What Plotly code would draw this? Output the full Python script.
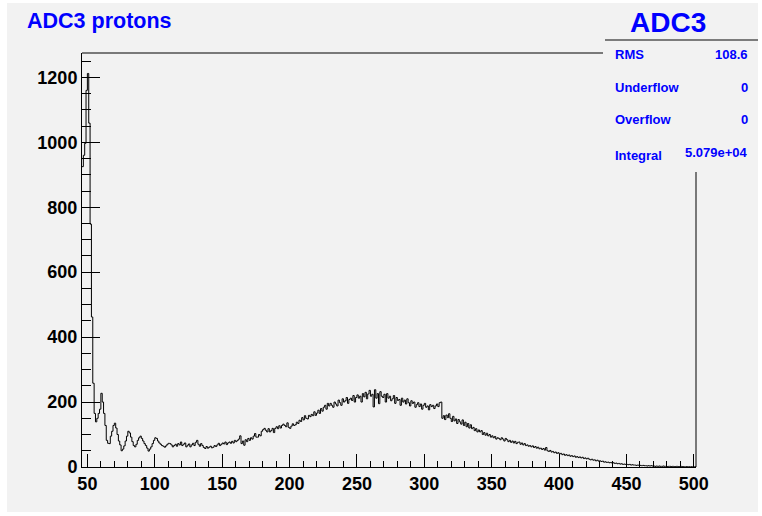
import plotly.graph_objects as go

# ---- data (1-unit bins starting at 46) ----
bin_start = 46
bin_width = 1
counts = [
    925, 960, 997, 1160, 1212, 1059, 748, 462, 258, 165,
    139, 150, 165, 178, 227, 200, 165, 128, 82, 73,
    72, 95, 110, 128, 135, 120, 100, 80, 68, 50,
    55, 65, 80, 95, 110, 105, 92, 78, 66, 62,
    70, 82, 90, 95, 88, 80, 72, 66, 58, 49,
    55, 62, 72, 82, 90, 88, 80, 74, 70, 66,
    64, 61, 65, 70, 73, 72, 68, 62, 66, 70,
    64, 72, 68, 77, 66, 70, 74, 62, 67, 71,
    62, 68, 73, 66, 76, 82, 70, 64, 72, 66,
    60, 57, 63, 58, 61, 64, 59, 61, 66, 63,
    68, 73, 66, 70, 74, 71, 77, 69, 74, 77,
    73, 79, 74, 82, 78, 82, 86, 96, 72, 80,
    67, 84, 78, 88, 82, 90, 86, 95, 103, 92,
    92, 100, 96, 110, 115, 119, 113, 108, 118, 108,
    112, 119, 106, 119, 124, 118, 127, 120, 128, 132,
    128, 124, 136, 122, 119, 126, 133, 128, 130, 138,
    134, 144, 140, 152, 145, 158, 150, 148, 159, 155,
    162, 158, 170, 159, 166, 175, 165, 180, 172, 184,
    190, 178, 196, 188, 196, 190, 184, 200, 194, 188,
    206, 198, 190, 210, 200, 204, 214, 196, 208, 212,
    205, 220, 200, 214, 222, 212, 218, 200, 226, 216,
    230, 210, 225, 236, 218, 224, 185, 238, 212, 226,
    195, 232, 218, 214, 224, 200, 226, 212, 218, 204,
    210, 220, 196, 214, 205, 208, 190, 212, 200, 206,
    194, 210, 198, 188, 204, 196, 200, 184, 192, 198,
    186, 194, 178, 190, 196, 184, 188, 176, 192, 186,
    190, 180, 188, 194, 186, 198, 200, 150, 158, 146,
    160, 152, 164, 150, 140, 156, 142, 148, 134, 146,
    139, 132, 145, 128, 138, 124, 134, 120, 130, 118,
    122, 112, 118, 108, 114, 108, 112, 100, 106, 98,
    104, 96, 100, 92, 96, 90, 94, 86, 90, 88,
    84, 90, 86, 80, 88, 84, 78, 82, 76, 80,
    74, 79, 72, 76, 77, 70, 74, 68, 72, 66,
    68, 64, 66, 62, 65, 60, 63, 58, 61, 56,
    58, 54, 57, 52, 60, 50, 48, 51, 46, 48,
    44, 46, 42, 44, 40, 42, 38, 40, 36, 38,
    35, 37, 33, 35, 32, 34, 30, 32, 29, 31,
    28, 30, 26, 28, 25, 27, 24, 22, 24, 21,
    22, 19, 21, 18, 19, 17, 18, 15, 16, 14,
    15, 13, 14, 12, 13, 11, 12, 10, 11, 9,
    10, 8, 9, 8, 8, 7, 8, 6, 7, 6,
    6, 5, 6, 5, 5, 4, 5, 4, 4, 3,
    4, 3, 4, 3, 3, 2, 3, 2, 3, 2,
    2, 3, 2, 2, 1, 2, 2, 1, 2, 1,
    1, 2, 1, 1, 2, 1, 1, 0, 1, 1,
    1, 0, 1, 1, 0, 1,
]

title_text = "ADC3 protons"
stats_title = "ADC3"
stats_labels = ["RMS", "Underflow", "Overflow", "Integral"]
stats_values = ["108.6", "0", "0", "5.079e+04"]

x_range = [46.0, 501.6]
y_range = [0, 1275]

# ---- figure geometry (pixels) ----
W, H = 762, 516
L, R, T, B = 82, 66, 53, 49
PW, PH = W - L - R, H - T - B


def px(xp):
    return (xp - L) / PW


def py(yp):
    return (H - B - yp) / PH


edges = [bin_start + i * bin_width for i in range(len(counts) + 1)]
yvals = counts + [counts[-1]]

BG = "rgb(242,242,242)"
BLUE = "#0000ff"
FONT = "Liberation Sans, Arial, sans-serif"

fig = go.Figure()
fig.add_trace(go.Scatter(
    x=edges, y=yvals, mode="lines", line=dict(shape="hv", color="#000000", width=1),
    hoverinfo="skip", showlegend=False,
))

axis_common = dict(
    showgrid=False, zeroline=False, showline=True, linecolor="#000000", linewidth=1,
    mirror=False, ticks="inside", tickcolor="#000000", tickwidth=1,
    tickfont=dict(family=FONT, size=18, color="#000000", weight="bold"),
)

fig.update_layout(
    width=W, height=H,
    margin=dict(l=L, r=R, t=T, b=B, pad=0),
    paper_bgcolor="#ffffff",
    plot_bgcolor=BG,
    xaxis=dict(range=x_range, tick0=50, dtick=50, ticklen=13,
               minor=dict(dtick=10, tick0=50, ticklen=6, ticks="inside", tickcolor="#000000"),
               **axis_common),
    yaxis=dict(range=y_range, tick0=0, dtick=200, ticklen=18,
               minor=dict(dtick=50, tick0=0, ticklen=9, ticks="inside", tickcolor="#000000"),
               **axis_common),
    shapes=[
        dict(type="rect", xref="paper", yref="paper", x0=px(7), x1=px(758), y0=py(512), y1=py(3),
             fillcolor=BG, line=dict(width=0), layer="below"),
        # frame top edge (hidden behind the stats box on the right)
        dict(type="line", xref="paper", yref="paper", x0=0, x1=px(603), y0=1, y1=1,
             line=dict(color="#000000", width=1), layer="above"),
        # frame right edge (visible below the stats box)
        dict(type="line", xref="paper", yref="paper", x0=1, x1=1, y0=0, y1=py(172),
             line=dict(color="#000000", width=1), layer="above"),
        # stats box title separator
        dict(type="line", xref="paper", yref="paper", x0=px(605), x1=px(758), y0=py(40), y1=py(40),
             line=dict(color="#555555", width=1.5), layer="above"),
    ],
)

ann = []
ann.append(dict(text=title_text, x=px(25), y=py(20.5), xref="paper", yref="paper",
                xanchor="left", yanchor="middle", showarrow=False,
                font=dict(family=FONT, size=21.5, color=BLUE, weight="bold")))
ann.append(dict(text=stats_title, x=px(668), y=py(23), xref="paper", yref="paper",
                xanchor="center", yanchor="middle", showarrow=False,
                font=dict(family=FONT, size=28, color=BLUE, weight="bold")))
label_y = [54, 87.3, 119, 155]
value_y = [54, 87.3, 119, 152.7]
for lab, val, ly, vy in zip(stats_labels, stats_values, label_y, value_y):
    ann.append(dict(text=lab, x=px(612.5), y=py(ly), xref="paper", yref="paper",
                    xanchor="left", yanchor="middle", showarrow=False,
                    font=dict(family=FONT, size=13, color=BLUE, weight="bold")))
    ann.append(dict(text=val, x=px(749.5), y=py(vy), xref="paper", yref="paper",
                    xanchor="right", yanchor="middle", showarrow=False,
                    font=dict(family=FONT, size=13, color=BLUE, weight="bold")))
fig.update_layout(annotations=ann)

fig.write_html("out.html")
